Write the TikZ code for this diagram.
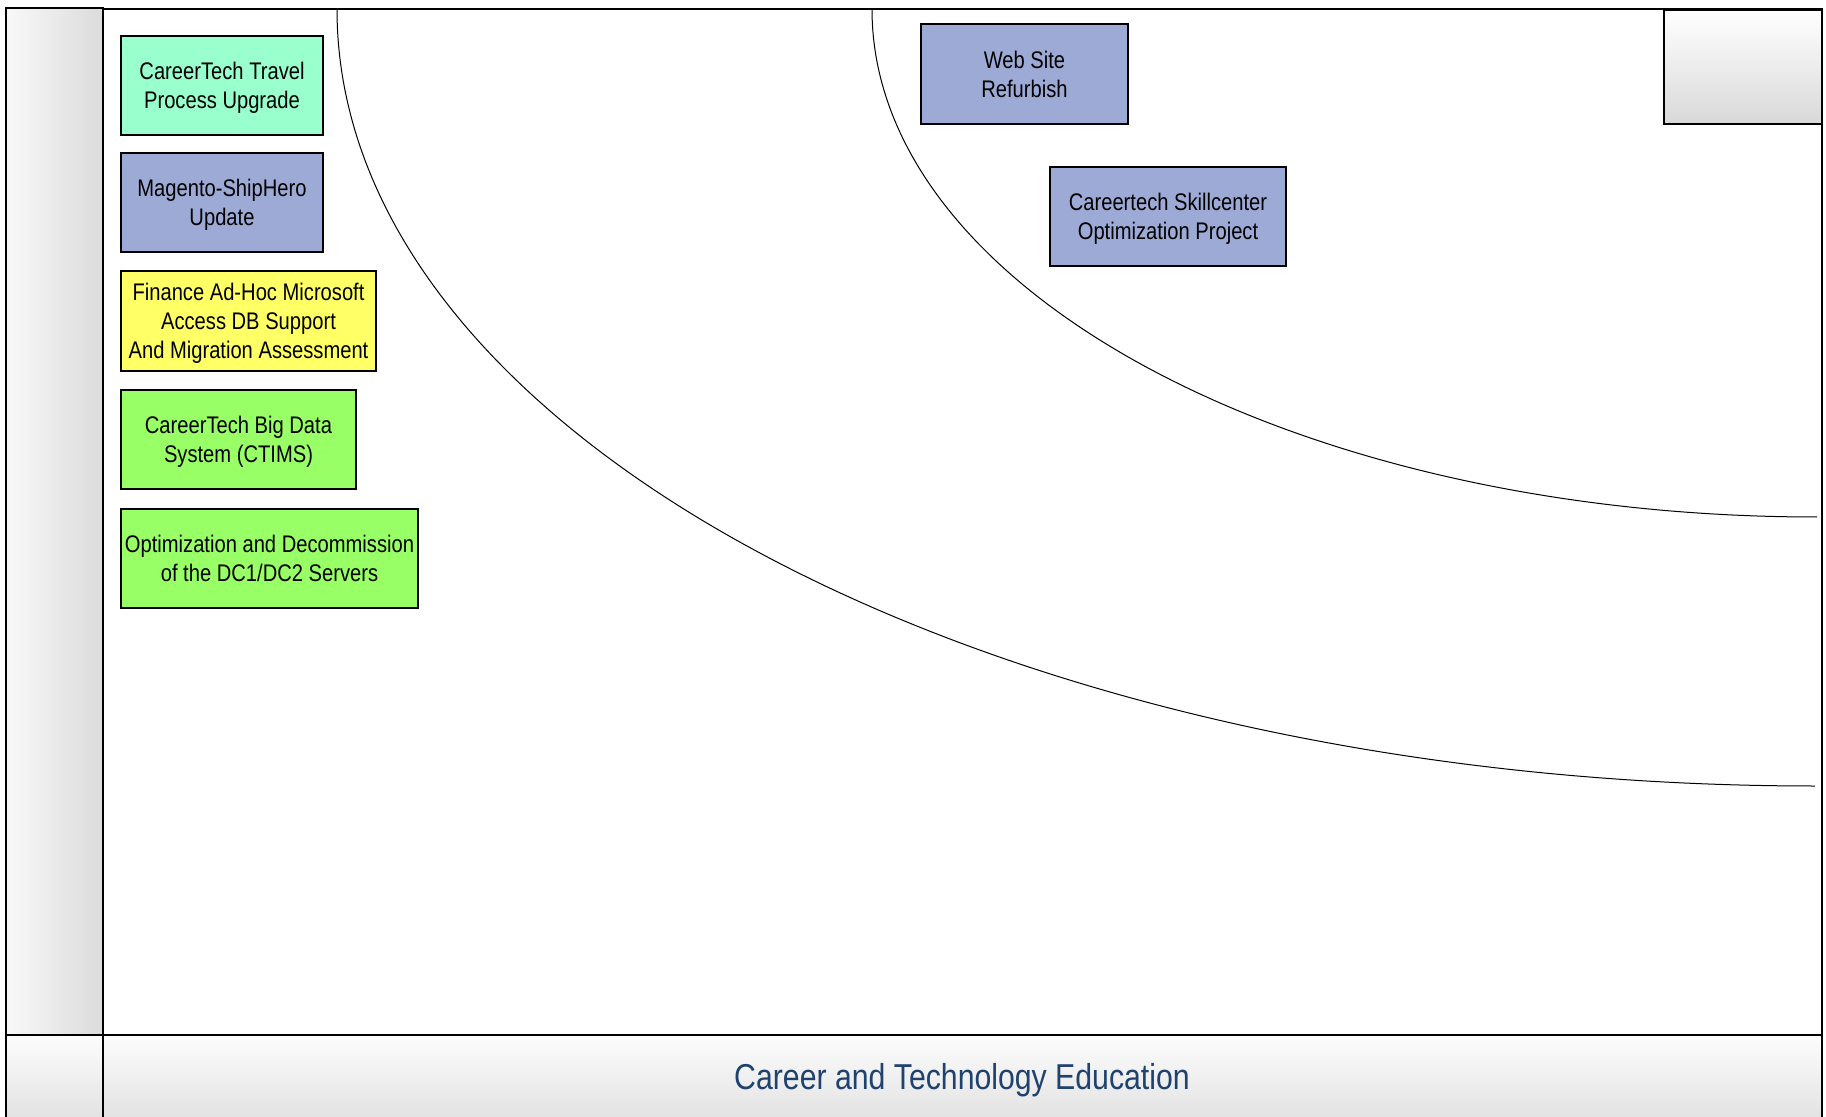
\documentclass[tikz,border=0pt]{standalone}
\usepackage{fontspec}
\setmainfont{Liberation Sans}[FakeStretch=0.84]
\usepackage{tikz}

\definecolor{mint}{RGB}{153,255,204}
\definecolor{slate}{RGB}{157,170,214}
\definecolor{lemon}{RGB}{255,255,102}
\definecolor{lime}{RGB}{153,255,102}
\definecolor{titleblue}{RGB}{31,66,110}

\tikzset{
  proj/.style={draw=black, line width=1pt, align=center, inner sep=0pt,
    text depth=0pt, font=\fontsize{12}{14.5}\selectfont},
  band/.style={draw=black, line width=1pt},
}

\begin{document}
\begin{tikzpicture}[x=0.5pt,y=-0.5pt]
 \useasboundingbox (0,0) rectangle (1826,1117);
 % side strip and bottom band
 \shade[band, left color=gray!5, right color=gray!28] (6,8) rectangle (103,1035);
 \shade[band, top color=gray!2, bottom color=gray!25] (6,1035) rectangle (103,1130);
 \shade[band, top color=gray!2, bottom color=gray!25] (103,1035) rectangle (1822,1130);
 \draw[band] (103,9) rectangle (1822,1035);
 \shade[band, shading angle=-45, top color=white, bottom color=gray!30] (1664,10) rectangle (1822,124);
 % the two rings
 \draw[line width=0.5pt] (337,9) .. controls (337,438) and (999,786) .. (1815,786);
 \draw[line width=0.5pt] (872,9) .. controls (872,290) and (1295,517) .. (1817,517);
 % projects
 \node[proj, fill=mint, minimum width=101pt, minimum height=49.5pt] (travel) at (222,85.5) {CareerTech Travel\\Process Upgrade};
 \node[proj, fill=slate, minimum width=101pt, minimum height=49.5pt] (magento) at (222,202.5) {Magento-ShipHero\\Update};
 \node[proj, fill=lemon, minimum width=127.5pt, minimum height=50pt] (finance) at (248.5,321) {Finance Ad-Hoc Microsoft\\Access DB Support\\And Migration Assessment};
 \node[proj, fill=lime, minimum width=117.5pt, minimum height=49.5pt] (bigdata) at (238.5,439.5) {CareerTech Big Data\\System (CTIMS)};
 \node[proj, fill=lime, minimum width=148.5pt, minimum height=49.5pt] (decom) at (269.5,558.5) {Optimization and Decommission\\of the DC1/DC2 Servers};
 \node[proj, fill=slate, minimum width=103.5pt, minimum height=50pt] (website) at (1024.5,74) {Web Site\\Refurbish};
 \node[proj, fill=slate, minimum width=118pt, minimum height=49.5pt] (skill) at (1168,216.5) {Careertech Skillcenter\\Optimization Project};
 \node[text=titleblue, font=\fontsize{18}{21}\selectfont] (title) at (962,1080) {Career and Technology Education};
\end{tikzpicture}
\end{document}
